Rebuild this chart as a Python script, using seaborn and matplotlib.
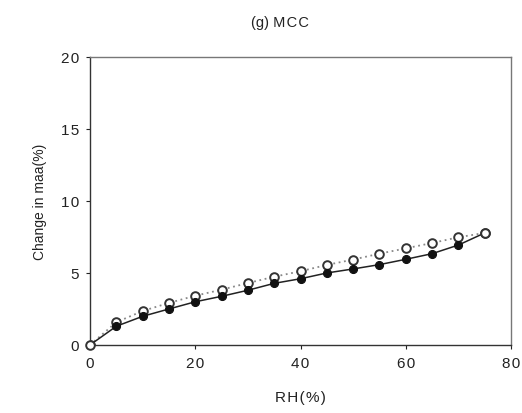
import matplotlib
matplotlib.use("Agg")
import matplotlib.pyplot as plt
from matplotlib.ticker import FuncFormatter
import seaborn as sns
import pandas as pd

rh = [0, 5, 10, 15, 20, 25, 30, 35, 40, 45, 50, 55, 60, 65, 70, 75]
change_filled = [0, 1.30, 1.99, 2.50, 3.00, 3.38, 3.80, 4.28, 4.60, 5.00, 5.28, 5.58, 5.95, 6.34, 6.94, 7.78]
change_open = [0, 1.58, 2.36, 2.92, 3.42, 3.84, 4.30, 4.74, 5.12, 5.56, 5.93, 6.34, 6.71, 7.08, 7.48, 7.78]

sns.set_style("ticks")
plt.rcParams['font.family'] = ['Liberation Sans', 'DejaVu Sans']

SP = "\u200a"


def spaced(s):
    return SP.join(s)


df_f = pd.DataFrame({"RH": rh, "chg": change_filled})
df_o = pd.DataFrame({"RH": rh, "chg": change_open})

fig = plt.figure(figsize=(5.22, 4.14), dpi=100)
ax = fig.add_axes([0.1724, 0.1643, 0.8066, 0.6957])

sns.lineplot(data=df_o, x="RH", y="chg", ax=ax, color="#888888", linestyle=(0, (1, 2)),
             linewidth=1.3, marker="o", markersize=6.2, markerfacecolor="white",
             markeredgecolor="#333333", markeredgewidth=1.4, zorder=2)
sns.lineplot(data=df_f, x="RH", y="chg", ax=ax, color="#222222", linewidth=1.1,
             marker="o", markersize=5.8, markerfacecolor="#111111",
             markeredgecolor="#111111", zorder=3)
# open circles on top so the shared end points show as hollow
ax.plot([rh[0], rh[-1]], [change_open[0], change_open[-1]], linestyle="none", marker="o",
        markersize=6.2, markerfacecolor="white", markeredgecolor="#333333",
        markeredgewidth=1.4, zorder=4, clip_on=False)

ax.set_xlim(0, 80)
ax.set_ylim(0, 20)
ax.set_xticks([0, 20, 40, 60, 80])
ax.set_yticks([0, 5, 10, 15, 20])
fmt = FuncFormatter(lambda v, p: spaced(f"{v:g}"))
ax.xaxis.set_major_formatter(fmt)
ax.yaxis.set_major_formatter(fmt)
ax.tick_params(axis="both", labelsize=11, length=3, width=0.8, colors="#222222", pad=5)
for s in ax.spines.values():
    s.set_linewidth(1.0)
    s.set_color("#333333")
ax.spines["top"].set_color("#777777")
ax.spines["right"].set_color("#777777")

ax.set_xlabel(spaced("RH(%)"), fontsize=11, labelpad=14, color="#222222")
ax.set_ylabel("Change in maa(%)", fontsize=10, labelpad=10, color="#222222")
ax.set_title("(g)" + " " + spaced("MCC"), fontsize=10.5, pad=22,
             color="#222222", x=0.45)

fig.savefig("out.png", dpi=100)
